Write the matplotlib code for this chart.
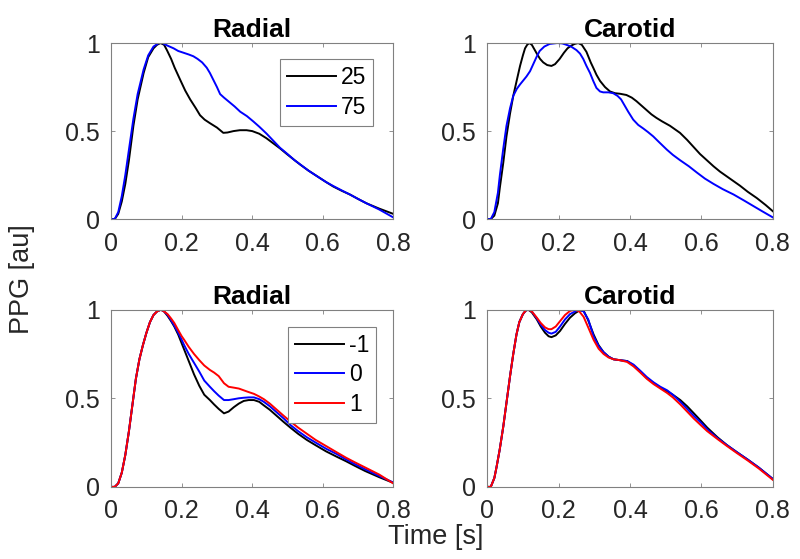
import numpy as np
import matplotlib
matplotlib.use("Agg")
import matplotlib.pyplot as plt

plt.rcParams['font.family'] = ['Liberation Sans', 'DejaVu Sans']

# ---------------- data ----------------
# Top-left: Radial, ages 25 / 75
rad_age_t25 = [0, 0.01, 0.02, 0.03, 0.04, 0.05, 0.063, 0.075, 0.092, 0.105, 0.12, 0.13, 0.14, 0.15,
               0.158, 0.17, 0.18, 0.196, 0.21, 0.224, 0.24, 0.252, 0.265, 0.28, 0.30, 0.318, 0.33,
               0.347, 0.365, 0.384, 0.40, 0.42, 0.44, 0.46, 0.48, 0.498, 0.52, 0.536, 0.56, 0.583,
               0.61, 0.63, 0.655, 0.677, 0.70, 0.724, 0.76, 0.8]
rad_age_25 = [0, 0.0, 0.03, 0.1, 0.2, 0.33, 0.53, 0.68, 0.83, 0.92, 0.97, 0.99, 1.0, 0.99,
              0.96, 0.91, 0.86, 0.79, 0.73, 0.68, 0.63, 0.59, 0.565, 0.545, 0.52, 0.49, 0.492,
              0.50, 0.505, 0.505, 0.50, 0.485, 0.46, 0.43, 0.40, 0.37, 0.335, 0.31, 0.275, 0.245,
              0.21, 0.185, 0.16, 0.14, 0.115, 0.09, 0.06, 0.03]
rad_age_t75 = [0, 0.01, 0.02, 0.03, 0.04, 0.05, 0.063, 0.075, 0.092, 0.105, 0.12, 0.135, 0.145, 0.16,
               0.177, 0.19, 0.205, 0.22, 0.233, 0.245, 0.258, 0.271, 0.28, 0.29, 0.30, 0.309, 0.32,
               0.335, 0.35, 0.366, 0.385, 0.403, 0.42, 0.441, 0.46, 0.479, 0.5, 0.52, 0.54, 0.56,
               0.583, 0.61, 0.63, 0.655, 0.677, 0.70, 0.724, 0.76, 0.8]
rad_age_75 = [0, 0.0, 0.04, 0.13, 0.25, 0.39, 0.57, 0.71, 0.85, 0.93, 0.98, 1.0, 1.0, 0.985,
              0.97, 0.955, 0.945, 0.935, 0.925, 0.91, 0.89, 0.86, 0.83, 0.79, 0.75, 0.71, 0.69,
              0.665, 0.64, 0.61, 0.585, 0.555, 0.525, 0.485, 0.445, 0.405, 0.37, 0.335, 0.305, 0.275,
              0.245, 0.21, 0.188, 0.162, 0.14, 0.115, 0.09, 0.055, 0.01]

# Top-right: Carotid, ages 25 / 75
car_age_t25 = [0, 0.01, 0.02, 0.03, 0.0355, 0.045, 0.054, 0.064, 0.073, 0.083, 0.092, 0.1, 0.106,
               0.112, 0.118, 0.125, 0.132, 0.139, 0.148, 0.157, 0.168, 0.18, 0.19, 0.203, 0.215,
               0.225, 0.235, 0.245, 0.255, 0.265, 0.278, 0.29, 0.297, 0.306, 0.316, 0.33, 0.344,
               0.358, 0.372, 0.39, 0.405, 0.418, 0.432, 0.446, 0.46, 0.474, 0.49, 0.512, 0.526,
               0.54, 0.56, 0.578, 0.596, 0.615, 0.634, 0.652, 0.68, 0.708, 0.73, 0.755, 0.78, 0.8]
car_age_25 = [0, 0.0, 0.02, 0.09, 0.18, 0.32, 0.47, 0.6, 0.70, 0.79, 0.87, 0.93, 0.97,
              0.99, 1.0, 0.99, 0.965, 0.94, 0.91, 0.89, 0.875, 0.87, 0.88, 0.91, 0.945,
              0.97, 0.985, 0.995, 1.0, 0.99, 0.95, 0.89, 0.86, 0.82, 0.785, 0.75, 0.725,
              0.715, 0.712, 0.705, 0.69, 0.67, 0.645, 0.62, 0.595, 0.575, 0.555, 0.53, 0.51,
              0.49, 0.45, 0.41, 0.37, 0.335, 0.30, 0.27, 0.23, 0.19, 0.155, 0.12, 0.08, 0.045]
car_age_t75 = [0, 0.01, 0.02, 0.03, 0.0355, 0.045, 0.054, 0.064, 0.073, 0.083, 0.092, 0.1, 0.11,
               0.12, 0.129, 0.138, 0.147, 0.16, 0.175, 0.196, 0.21, 0.222, 0.235, 0.25, 0.26,
               0.269, 0.278, 0.288, 0.297, 0.306, 0.316, 0.325, 0.34, 0.353, 0.365, 0.375, 0.385,
               0.395, 0.409, 0.423, 0.437, 0.45, 0.465, 0.48, 0.503, 0.52, 0.54, 0.565, 0.587,
               0.61, 0.634, 0.66, 0.69, 0.72, 0.745, 0.77, 0.8]
car_age_75 = [0, 0.0, 0.04, 0.15, 0.25, 0.40, 0.53, 0.63, 0.70, 0.74, 0.765, 0.785, 0.81,
              0.84, 0.88, 0.92, 0.955, 0.98, 0.995, 1.0, 0.998, 0.99, 0.98, 0.96, 0.94,
              0.91, 0.87, 0.83, 0.785, 0.745, 0.725, 0.72, 0.72, 0.715, 0.70, 0.68, 0.645,
              0.61, 0.565, 0.535, 0.515, 0.495, 0.47, 0.44, 0.395, 0.365, 0.335, 0.30, 0.265,
              0.23, 0.20, 0.17, 0.14, 0.105, 0.075, 0.045, 0.01]

# Bottom-left: Radial, SD -1 / 0 / 1
rad_sd_t = [0, 0.01, 0.02, 0.03, 0.04, 0.05, 0.06, 0.07, 0.08, 0.09, 0.1, 0.11, 0.12, 0.13, 0.141,
            0.15, 0.16, 0.17, 0.179, 0.19, 0.2, 0.207, 0.22, 0.235, 0.25, 0.264, 0.28, 0.292,
            0.305, 0.32, 0.333, 0.348, 0.362, 0.376, 0.39, 0.405, 0.42, 0.433, 0.45, 0.47, 0.49,
            0.508, 0.53, 0.555, 0.58, 0.61, 0.64, 0.666, 0.69, 0.72, 0.76, 0.8]
rad_sd_m1 = [0, 0.0, 0.02, 0.08, 0.18, 0.31, 0.46, 0.61, 0.72, 0.80, 0.87, 0.93, 0.97, 0.99, 1.0,
             0.99, 0.965, 0.935, 0.905, 0.86, 0.81, 0.775, 0.71, 0.635, 0.57, 0.52, 0.49, 0.465,
             0.44, 0.415, 0.425, 0.45, 0.47, 0.485, 0.49, 0.49, 0.48, 0.46, 0.435, 0.40, 0.365,
             0.335, 0.30, 0.265, 0.235, 0.20, 0.17, 0.145, 0.12, 0.09, 0.055, 0.023]
rad_sd_0 = [0, 0.0, 0.02, 0.08, 0.18, 0.31, 0.46, 0.61, 0.72, 0.80, 0.87, 0.93, 0.97, 0.99, 1.0,
            0.99, 0.97, 0.94, 0.91, 0.87, 0.83, 0.80, 0.75, 0.70, 0.65, 0.60, 0.565, 0.54,
            0.515, 0.49, 0.49, 0.495, 0.50, 0.503, 0.505, 0.505, 0.495, 0.48, 0.455, 0.42, 0.385,
            0.35, 0.315, 0.28, 0.25, 0.215, 0.185, 0.155, 0.13, 0.10, 0.062, 0.025]
rad_sd_p1 = [0, 0.0, 0.02, 0.08, 0.18, 0.31, 0.46, 0.61, 0.72, 0.80, 0.87, 0.93, 0.97, 0.99, 1.0,
             0.99, 0.975, 0.95, 0.925, 0.885, 0.85, 0.83, 0.79, 0.75, 0.715, 0.685, 0.66, 0.645,
             0.625, 0.585, 0.565, 0.56, 0.555, 0.545, 0.535, 0.525, 0.51, 0.495, 0.47, 0.435, 0.40,
             0.37, 0.335, 0.30, 0.265, 0.23, 0.195, 0.165, 0.14, 0.11, 0.07, 0.02]

# Bottom-right: Carotid, SD -1 / 0 / 1
car_sd_t = [0, 0.01, 0.02, 0.026, 0.035, 0.045, 0.055, 0.064, 0.073, 0.082, 0.09, 0.1, 0.108, 0.115,
            0.125, 0.139, 0.15, 0.162, 0.172, 0.18, 0.192, 0.204, 0.218, 0.232, 0.246, 0.258,
            0.27, 0.283, 0.298, 0.312, 0.326, 0.34, 0.354, 0.372, 0.392, 0.41, 0.429, 0.447,
            0.466, 0.485, 0.504, 0.52, 0.541, 0.56, 0.579, 0.6, 0.616, 0.645, 0.672, 0.7, 0.729,
            0.76, 0.8]
car_sd_m1 = [0, 0.0, 0.05, 0.11, 0.21, 0.34, 0.49, 0.625, 0.75, 0.86, 0.93, 0.975, 0.995, 1.0,
             0.985, 0.945, 0.905, 0.87, 0.85, 0.845, 0.855, 0.88, 0.92, 0.955, 0.98, 0.995,
             0.995, 0.94, 0.86, 0.80, 0.76, 0.735, 0.72, 0.715, 0.71, 0.685, 0.65, 0.615,
             0.585, 0.56, 0.54, 0.52, 0.49, 0.455, 0.415, 0.37, 0.335, 0.28, 0.235, 0.195, 0.155,
             0.11, 0.045]
car_sd_0 = [0, 0.0, 0.05, 0.11, 0.21, 0.34, 0.49, 0.625, 0.75, 0.86, 0.93, 0.975, 0.995, 1.0,
            0.99, 0.95, 0.915, 0.885, 0.87, 0.865, 0.875, 0.905, 0.945, 0.975, 0.99, 1.0,
            0.99, 0.945, 0.85, 0.795, 0.76, 0.735, 0.72, 0.715, 0.71, 0.69, 0.655, 0.62,
            0.59, 0.565, 0.545, 0.52, 0.48, 0.44, 0.40, 0.36, 0.325, 0.275, 0.235, 0.195, 0.155,
            0.11, 0.045]
car_sd_p1 = [0, 0.0, 0.05, 0.11, 0.21, 0.34, 0.49, 0.625, 0.75, 0.86, 0.93, 0.975, 0.995, 1.0,
             0.99, 0.955, 0.925, 0.90, 0.89, 0.89, 0.905, 0.935, 0.97, 0.993, 1.0, 0.99,
             0.96, 0.90, 0.83, 0.78, 0.75, 0.73, 0.72, 0.715, 0.705, 0.68, 0.645, 0.61,
             0.58, 0.555, 0.53, 0.505, 0.465, 0.425, 0.385, 0.345, 0.315, 0.27, 0.23, 0.19, 0.15,
             0.105, 0.04]

titles = ["Radial", "Carotid", "Radial", "Carotid"]
age_labels = ["25", "75"]
sd_labels = ["-1", "0", "1"]
x_ticks = [0, 0.2, 0.4, 0.6, 0.8]
x_ticklabels = ["0", "0.2", "0.4", "0.6", "0.8"]
y_ticks = [0, 0.5, 1]
y_ticklabels = ["0", "0.5", "1"]

# ---------------- figure ----------------
fig = plt.figure(figsize=(8.0, 5.59), dpi=100)
tick_color = '#262626'
spine_color = '#808080'
lw = 1.4

positions = [
    [0.139, 0.608, 0.3525, 0.315],
    [0.609, 0.608, 0.357, 0.315],
    [0.139, 0.129, 0.3525, 0.317],
    [0.609, 0.129, 0.357, 0.317],
]
axes = [fig.add_axes(p) for p in positions]

ax = axes[0]
ax.plot(rad_age_t25, rad_age_25, color='black', lw=lw, label=age_labels[0])
ax.plot(rad_age_t75, rad_age_75, color='blue', lw=lw, label=age_labels[1])
ax = axes[1]
ax.plot(car_age_t25, car_age_25, color='black', lw=lw)
ax.plot(car_age_t75, car_age_75, color='blue', lw=lw)
ax = axes[2]
ax.plot(rad_sd_t, rad_sd_m1, color='black', lw=lw, label=sd_labels[0])
ax.plot(rad_sd_t, rad_sd_0, color='blue', lw=lw, label=sd_labels[1])
ax.plot(rad_sd_t, rad_sd_p1, color='red', lw=lw, label=sd_labels[2])
ax = axes[3]
ax.plot(car_sd_t, car_sd_m1, color='black', lw=lw)
ax.plot(car_sd_t, car_sd_0, color='blue', lw=lw)
ax.plot(car_sd_t, car_sd_p1, color='red', lw=lw)

for ax, title in zip(axes, titles):
    ax.set_xlim(0, 0.8)
    ax.set_ylim(0, 1)
    ax.set_xticks(x_ticks)
    ax.set_xticklabels(x_ticklabels)
    ax.set_yticks(y_ticks)
    ax.set_yticklabels(y_ticklabels)
    ax.tick_params(direction='in', length=3, width=0.6, colors=spine_color,
                   labelcolor=tick_color, labelsize=18, top=True, right=True)
    ax.tick_params(axis='x', pad=9)
    ax.tick_params(axis='y', pad=8)
    for s in ax.spines.values():
        s.set_color(spine_color)
        s.set_linewidth(0.8)
    ax.set_title(title, fontsize=19, fontweight='bold', pad=4, color='black')

leg_kw = dict(fontsize=16.5, frameon=True, fancybox=False, edgecolor=spine_color,
              handlelength=2.15, handletextpad=0.2, borderpad=0.3, labelspacing=0.3,
              borderaxespad=0.0, loc='upper right', framealpha=1)
l1 = axes[0].legend(bbox_to_anchor=(0.929, 0.909), **leg_kw)
l1.get_frame().set_linewidth(0.8)
l2 = axes[2].legend(bbox_to_anchor=(0.94, 0.904), **leg_kw)
l2.get_frame().set_linewidth(0.8)

fig.text(0.028, 0.5, "PPG [au]", rotation=90, ha='center', va='center',
         fontsize=19.5, color=tick_color)
fig.text(0.545, 0.039, "Time [s]", ha='center', va='center', fontsize=19.5, color=tick_color)

fig.savefig("out.png", dpi=100)
